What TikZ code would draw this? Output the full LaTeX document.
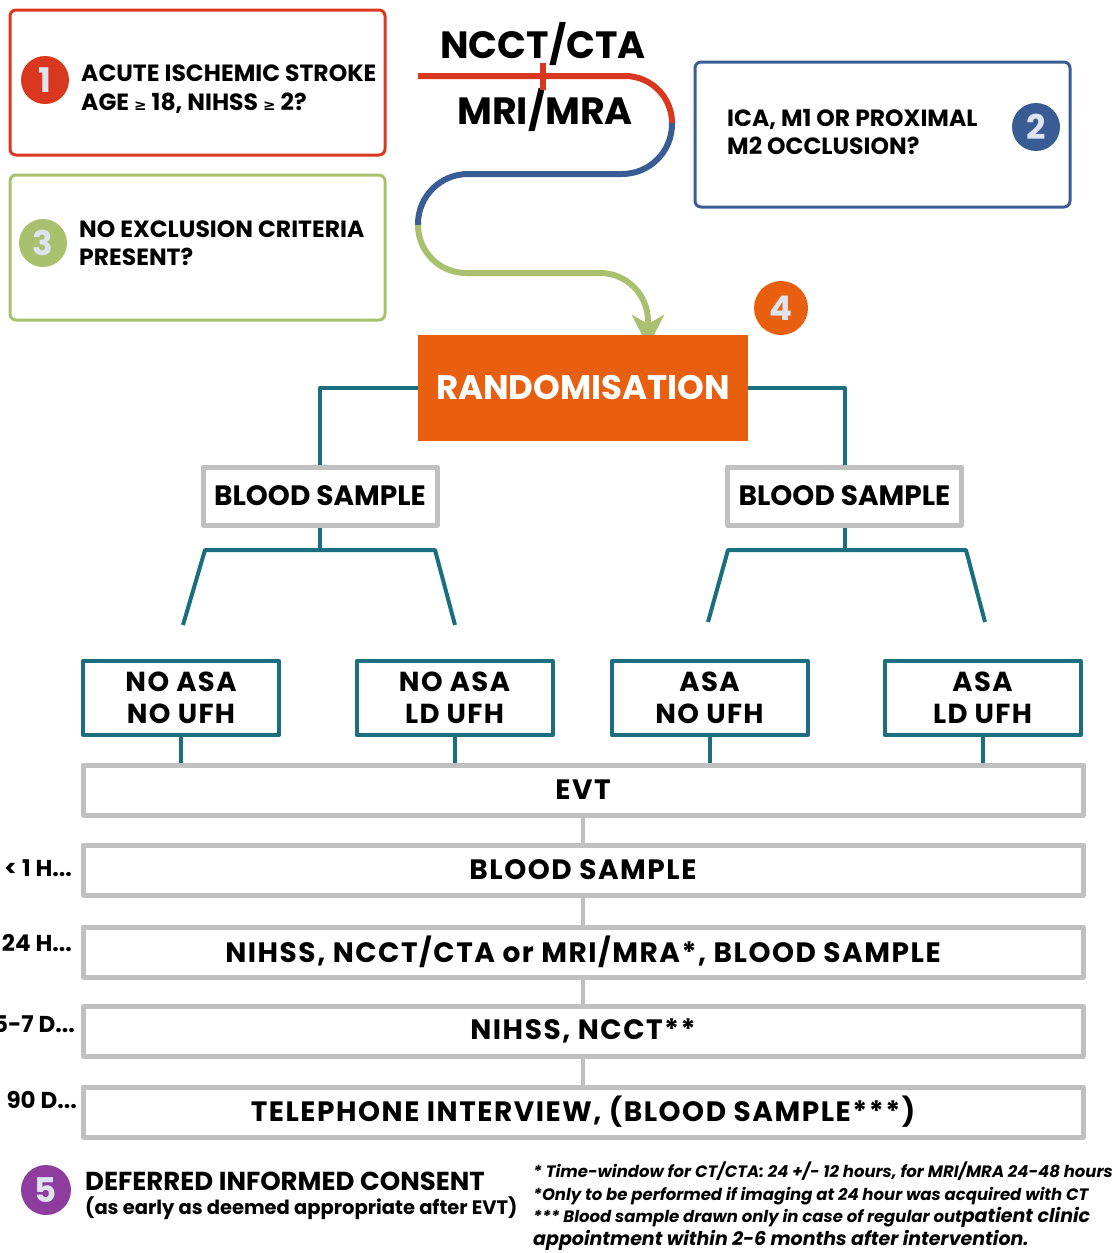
\documentclass[tikz,border=0pt]{standalone}
\usepackage{fontspec}
\setmainfont{Poppins}
\newfontfamily\symfont{DejaVu Sans}
\usetikzlibrary{arrows.meta}
\definecolor{redbox}{RGB}{217,56,30}
\definecolor{greenbox}{RGB}{169,193,111}
\definecolor{bluebox}{RGB}{58,92,149}
\definecolor{orangebox}{RGB}{232,96,15}
\definecolor{tealline}{RGB}{26,110,128}
\definecolor{greyline}{RGB}{192,192,192}
\definecolor{purplebadge}{RGB}{142,60,158}
\definecolor{badgetext}{RGB}{222,228,238}
\newcommand{\geqsym}{{\symfont\fontsize{15}{15}\selectfont ≥}}
\tikzset{
  qbox/.style={draw, rounded corners=6pt, line width=3pt, minimum width=375pt, minimum height=145pt},
  qtext/.style={anchor=west, align=left, inner sep=0pt, font=\bfseries\fontsize{23.5}{28.5}\selectfont},
  badge/.style={circle, minimum size=48pt, inner sep=0pt, text=badgetext, font=\bfseries\fontsize{34}{34}\selectfont},
  greybox/.style={draw=greyline, line width=5pt, minimum height=50pt, inner sep=0pt},
  armbox/.style={draw=tealline, line width=4pt, minimum width=196pt, minimum height=74pt, align=center, font=\bfseries\fontsize{27.5}{32}\selectfont\addfontfeature{LetterSpace=5}},
  tealln/.style={draw=tealline, line width=4pt},
  greyln/.style={draw=greyline, line width=4pt},
  timetext/.style={font=\bfseries\fontsize{28}{28}\selectfont\addfontfeature{LetterSpace=5.5}},
  sidelabel/.style={anchor=east, inner sep=0pt, font=\bfseries\fontsize{23}{23}\selectfont}
}
\begin{document}
\begin{tikzpicture}[x=1pt,y=-1pt,line join=round]
\useasboundingbox (0,0) rectangle (1115,1253);
% question boxes
\node[qbox, draw=redbox] (q1) at (197.5,82.5) {};
\node[badge, fill=redbox] (b1) at (45,80) {1};
\node[qtext] (q1txt) at (81,89) {ACUTE ISCHEMIC STROKE\\AGE \geqsym\ 18, NIHSS \geqsym\ 2?};
\node[qbox, draw=greenbox] (q3) at (197.5,247.5) {};
\node[badge, fill=greenbox] (b3) at (43,243) {3};
\node[qtext] (q3txt) at (79,243) {NO EXCLUSION CRITERIA\\PRESENT?};
\node[qbox, draw=bluebox] (q2) at (882.5,134.5) {};
\node[badge, fill=bluebox] (b2) at (1036,127) {2};
\node[qtext] (q2txt) at (727,132) {ICA, M1 OR PROXIMAL\\M2 OCCLUSION?};
% imaging path
\node[font=\bfseries\fontsize{38}{38}\selectfont] (ct) at (543,44) {NCCT/CTA};
\node[font=\bfseries\fontsize{38}{38}\selectfont] (mri) at (545,110) {MRI/MRA};
\draw[redbox, line width=6pt, rounded corners=47pt] (418,76) -- (672,76) -- (672,124);
\draw[redbox, line width=6pt] (543,63) -- (543,90);
\draw[bluebox, line width=6pt, rounded corners=50pt] (672,123) -- (672,174) -- (418,174) -- (418,226);
\draw[greenbox, line width=6pt, rounded corners=48pt, -{Stealth[length=32pt,width=32pt,inset=9pt]}] (418,225) -- (418,273) -- (648,273) -- (648,347);
% randomisation
\node[fill=orangebox, minimum width=330pt, minimum height=106pt, text=white, font=\bfseries\fontsize{34}{34}\selectfont] (rand) at (583,388) {RANDOMISATION};
\node[badge, fill=orangebox, minimum size=54pt] (b4) at (781,308) {4};
\node[greybox, minimum width=234pt, minimum height=58pt, font=\bfseries\fontsize{28}{28}\selectfont] (bsL) at (320,496) {BLOOD SAMPLE};
\node[greybox, minimum width=234pt, minimum height=58pt, font=\bfseries\fontsize{28}{28}\selectfont] (bsR) at (844.5,496) {BLOOD SAMPLE};
\draw[tealln] (rand.west) -| (bsL.north);
\draw[tealln] (rand.east) -| (bsR.north);
\coordinate (forkLa) at (205,550);
\coordinate (forkLb) at (435,550);
\coordinate (legLa) at (183,625);
\coordinate (legLb) at (455,625);
\coordinate (forkRa) at (728,550);
\coordinate (forkRb) at (966,550);
\coordinate (legRa) at (708,622);
\coordinate (legRb) at (985,622);
\draw[tealln] (bsL.south) -- (bsL.south |- forkLa);
\draw[tealln] (legLa) -- (forkLa) -- (forkLb) -- (legLb);
\draw[tealln] (bsR.south) -- (bsR.south |- forkRa);
\draw[tealln] (legRa) -- (forkRa) -- (forkRb) -- (legRb);
% study arms
\node[armbox] (armA) at (181,698) {NO ASA\\NO UFH};
\node[armbox] (armB) at (454.5,698) {NO ASA\\LD UFH};
\node[armbox] (armC) at (709.5,698) {ASA\\NO UFH};
\node[armbox] (armD) at (982.5,698) {ASA\\LD UFH};
% timeline
\node[greybox, minimum width=1000pt, timetext] (evt) at (583,790) {EVT};
\node[greybox, minimum width=1000pt, timetext] (tA) at (583,870) {BLOOD SAMPLE};
\node[greybox, minimum width=1000pt, timetext] (tB) at (583,952) {NIHSS, NCCT/CTA or MRI/MRA*, BLOOD SAMPLE};
\node[greybox, minimum width=1000pt, timetext] (tC) at (583,1031) {NIHSS, NCCT**};
\node[greybox, minimum width=1000pt, timetext] (tD) at (583,1112) {TELEPHONE INTERVIEW, (BLOOD SAMPLE***)};
\foreach \a in {armA,armB,armC,armD}
  \draw[tealln] (\a.south) -- (\a.south |- evt.north);
\foreach \a/\b in {evt/tA,tA/tB,tB/tC,tC/tD}
  \draw[greyln] (\a.south) -- (\b.north);
\node[sidelabel] (lA) at (72,868) {< 1 H...};
\node[sidelabel] (lB) at (72,943) {24 H...};
\node[sidelabel] (lC) at (75,1024) {5-7 D...};
\node[sidelabel] (lD) at (77,1100) {90 D...};
% consent and footnotes
\node[badge, fill=purplebadge, minimum size=50pt] (b5) at (46,1190) {5};
\node[anchor=west, inner sep=0pt, font=\bfseries\fontsize{26}{26}\selectfont] (consent) at (85,1181) {DEFERRED INFORMED CONSENT};
\node[anchor=west, inner sep=0pt, font=\bfseries\fontsize{19.5}{19.5}\selectfont] (consentnote) at (85,1208) {(as early as deemed appropriate after EVT)};
\node[anchor=west, align=left, inner sep=0pt, font=\bfseries\itshape\fontsize{16.5}{22.5}\selectfont] (notes) at (533,1206)
  {* Time-window for CT/CTA: 24 +/- 12 hours, for MRI/MRA 24-48 hours\\
   *Only to be performed if imaging at 24 hour was acquired with CT\\
   *** Blood sample drawn only in case of regular out{\fontsize{19}{22.5}\selectfont patient clinic}\\
   {\fontsize{19}{22.5}\selectfont appointment within 2-6 months after intervention.}};
\end{tikzpicture}
\end{document}
